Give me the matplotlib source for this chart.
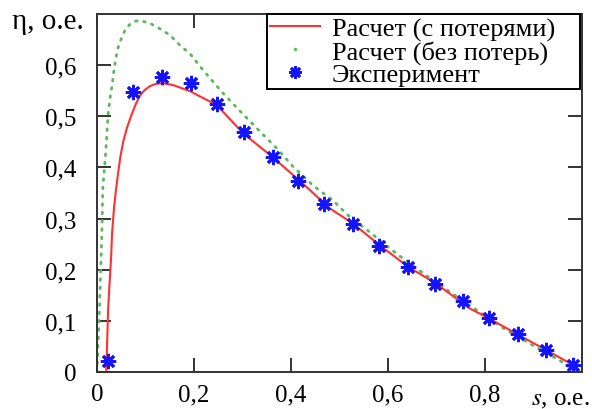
import matplotlib
matplotlib.use('Agg')
import matplotlib.pyplot as plt
from matplotlib.lines import Line2D

plt.rcParams['font.family'] = ['Liberation Serif', 'DejaVu Serif']

# --- data ---
s_loss = [0.019, 0.021, 0.023, 0.026, 0.029, 0.031, 0.035, 0.039, 0.043, 0.048,
          0.054, 0.062, 0.070, 0.080, 0.089, 0.098, 0.109, 0.120, 0.134, 0.157,
          0.192, 0.212, 0.247, 0.301, 0.361, 0.419, 0.480, 0.528, 0.584, 0.641,
          0.699, 0.769, 0.810, 0.868, 0.926, 0.981, 0.995]
eta_loss = [0.000, 0.060, 0.124, 0.175, 0.222, 0.270, 0.320, 0.355, 0.385, 0.420,
            0.450, 0.478, 0.500, 0.524, 0.541, 0.551, 0.559, 0.563, 0.565, 0.561,
            0.549, 0.539, 0.522, 0.467, 0.421, 0.373, 0.320, 0.290, 0.247, 0.206,
            0.173, 0.124, 0.104, 0.073, 0.043, 0.014, 0.000]

s_ideal = [0.000, 0.004, 0.008, 0.010, 0.012, 0.018, 0.020, 0.023, 0.028, 0.031,
           0.035, 0.039, 0.043, 0.049, 0.058, 0.068, 0.078, 0.089, 0.109, 0.130,
           0.150, 0.171, 0.192, 0.219, 0.260, 0.295, 0.330, 0.371, 0.404, 0.445,
           0.487, 0.518, 0.559, 0.618, 0.680, 0.718, 0.837, 0.897, 0.955, 0.990]
eta_ideal = [0.000, 0.094, 0.210, 0.270, 0.360, 0.430, 0.460, 0.506, 0.543, 0.559,
             0.590, 0.614, 0.633, 0.649, 0.669, 0.680, 0.686, 0.687, 0.682, 0.671,
             0.659, 0.639, 0.622, 0.590, 0.545, 0.510, 0.476, 0.437, 0.402, 0.365,
             0.335, 0.306, 0.276, 0.231, 0.188, 0.163, 0.086, 0.053, 0.022, 0.000]

s_exp = [0.023, 0.074, 0.134, 0.194, 0.247, 0.303, 0.362, 0.415, 0.468, 0.528,
         0.582, 0.641, 0.697, 0.754, 0.808, 0.868, 0.926, 0.982]
eta_exp = [0.022, 0.547, 0.576, 0.565, 0.524, 0.469, 0.420, 0.373, 0.329, 0.290,
           0.247, 0.206, 0.173, 0.139, 0.106, 0.075, 0.043, 0.014]

labels = ['Расчет (с потерями)', 'Расчет (без потерь)', 'Эксперимент']
xticks = [0, 0.2, 0.4, 0.6, 0.8]
xtick_labels = ['0', '0,2', '0,4', '0,6', '0,8']
yticks = [0, 0.1, 0.2, 0.3, 0.4, 0.5, 0.6]
ytick_labels = ['0', '0,1', '0,2', '0,3', '0,4', '0,5', '0,6']

red = '#ff3030'
green = '#5cb85c'
blue = '#1414ff'

fig = plt.figure(figsize=(5.92, 4.10), dpi=100)
ax = fig.add_axes([97 / 592, 37 / 410, 485 / 592, 358 / 410])

ax.plot(s_ideal, eta_ideal, color=green, lw=2.0, linestyle=(0, (0.6, 2.4)),
        dash_capstyle='round')
ax.plot(s_loss, eta_loss, color=red, lw=1.5)
ax.plot(s_exp, eta_exp, ls='none', marker=(8, 2, 0), ms=11, mew=2.0,
        color=blue)

ax.set_xlim(0, 1.0)
ax.set_ylim(0, 0.70)
ax.set_xticks(xticks)
ax.set_xticklabels(xtick_labels)
ax.set_yticks(yticks)
ax.set_yticklabels(ytick_labels)
ax.tick_params(direction='in', length=10, width=1.4, labelsize=18,
               top=True, right=True, color='#333333')
ax.tick_params(axis='x', pad=8)
ax.tick_params(axis='y', pad=15)
for sp in ax.spines.values():
    sp.set_linewidth(1.4)
    sp.set_color('#333333')

# axis captions placed where the 1.0 / 0.7 labels would be
ax.text(1.015, -0.045, r'$s$, o.e.', transform=ax.transAxes, ha='right',
        va='top', fontsize=18, math_fontfamily='stix')
fig.text(12 / 592, 1 - 29 / 410, 'η, o.e.', ha='left', va='baseline', fontsize=21)

handles = [Line2D([], [], color=red, lw=1.5),
           Line2D([], [], ls='none', marker='.', ms=3, color=green),
           Line2D([], [], ls='none', marker=(8, 2, 0), ms=9, mew=2, color=blue)]
leg_x0 = (267 - 97) / 485
leg_x1 = (580 - 97) / 485
leg = ax.legend(handles, labels, loc='upper right',
                bbox_to_anchor=(leg_x0, 0.0, leg_x1 - leg_x0, 1.0), mode='expand',
                fontsize=19, frameon=True, fancybox=False, framealpha=1,
                edgecolor='black', borderaxespad=0, borderpad=0.1,
                labelspacing=-0.03, handlelength=1.9, handletextpad=0.45)
leg.get_frame().set_linewidth(1.4)

fig.savefig('out.png', dpi=100)
